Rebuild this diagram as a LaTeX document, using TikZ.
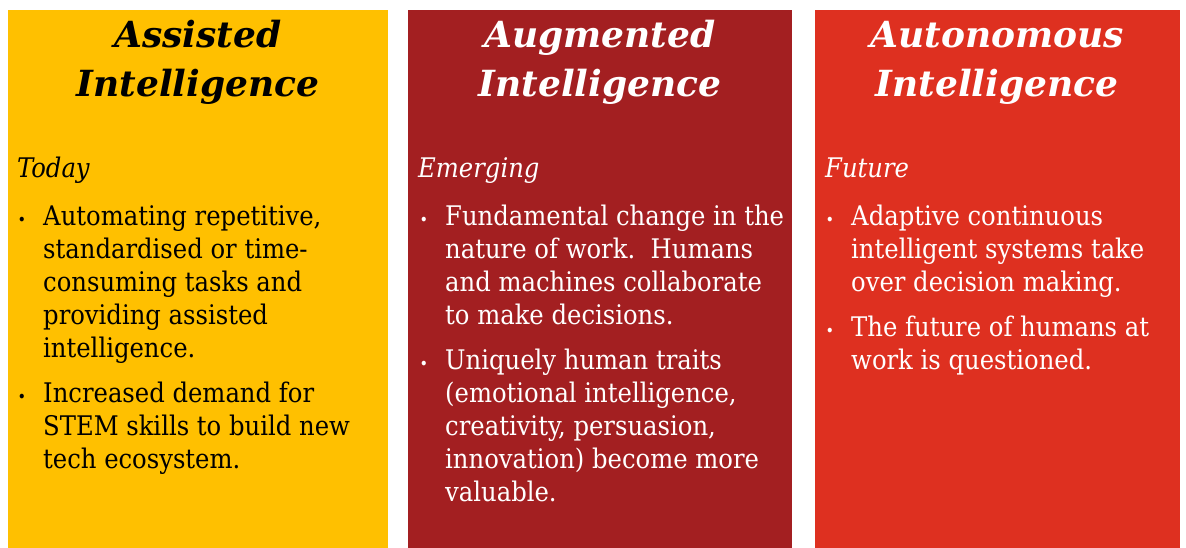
\documentclass[tikz,border=0pt]{standalone}
\usepackage{fontspec}
\setmainfont{DejaVu Serif}
\newfontfamily\bodyfont{DejaVu Serif Condensed}
\usetikzlibrary{positioning}

\definecolor{assisted}{HTML}{FFC000}
\definecolor{augmented}{HTML}{A31F21}
\definecolor{autonomous}{HTML}{DE3020}

\newcommand{\bul}{\llap{{\fontsize{16}{16}\selectfont\textbullet}\hspace{17pt}}}

\begin{document}
\begin{tikzpicture}[x=1pt,y=-1pt,
  title/.style={font=\fontsize{36}{49}\selectfont\bfseries\itshape, align=center, anchor=base, inner sep=0pt},
  stage/.style={font=\bodyfont\fontsize{27}{33}\selectfont\itshape, anchor=base west, inner sep=0pt},
  item/.style={font=\bodyfont\fontsize{27}{33}\selectfont, align=left, anchor=base west, inner sep=0pt}]

\useasboundingbox (0,0) rectangle (1186,548);

% trzy kolumny, base = ostatnia linia
\filldraw [draw=none,fill=assisted] (8,10) rectangle (388,548);
\filldraw [draw=none,fill=augmented] (408,10) rectangle (792,548);
\filldraw [draw=none,fill=autonomous] (815,10) rectangle (1180,548);

\node [title] (assisted) at (198,97) {Assisted\\Intelligence};
\node [stage] (today) at (17,178) {Today};
\node [item] (automating) at (43,357) {\bul Automating repetitive,\\standardised or time-\\consuming tasks and\\providing assisted\\intelligence.};
\node [item] (demand) at (43,468) {\bul Increased demand for\\STEM skills to build new\\tech ecosystem.};

\begin{scope}[text=white]
\node [title] (augmented) at (600,97) {Augmented\\Intelligence};
\node [stage] (emerging) at (418,178) {Emerging};
\node [item] (change) at (445,324) {\bul Fundamental change in the\\nature of work.\ \ Humans\\and machines collaborate\\to make decisions.};
\node [item] (traits) at (445,501) {\bul Uniquely human traits\\(emotional intelligence,\\creativity, persuasion,\\innovation) become more\\valuable.};

\node [title] (autonomous) at (997,97) {Autonomous\\Intelligence};
\node [stage] (future) at (825,178) {Future};
\node [item] (adaptive) at (851,291) {\bul Adaptive continuous\\intelligent systems take\\over decision making.};
\node [item] (questioned) at (851,369) {\bul The future of humans at\\work is questioned.};
\end{scope}

\end{tikzpicture}
\end{document}
